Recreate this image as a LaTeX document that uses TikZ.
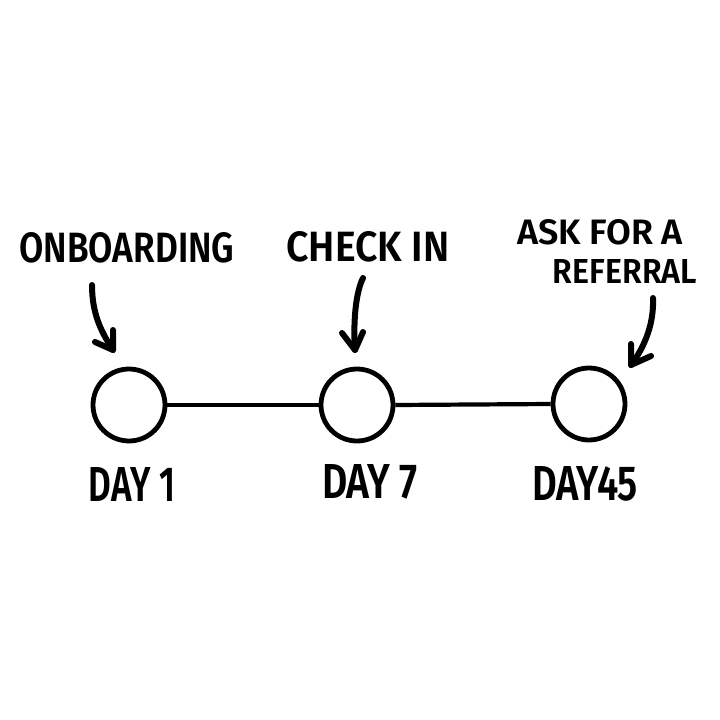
\documentclass[tikz,border=0pt]{standalone}
\usepackage{fontspec}
\setmainfont{Fira Sans}[BoldFont={Fira Sans SemiBold}]
\usepackage{graphicx}
\newcommand{\lbl}[3]{\resizebox{#1}{#2}{\bfseries #3}}
\tikzset{
  stage/.style={circle, draw=black, line width=4.8pt, minimum size=72pt, inner sep=0pt, fill=white},
  link/.style={line width=4.2pt},
  pointer/.style={line width=6pt, line cap=round, line join=round},
  txt/.style={inner sep=0pt, anchor=center}
}
\begin{document}
\begin{tikzpicture}[x=1pt,y=-1pt]
\fill[white] (0,0) rectangle (720,720);
\useasboundingbox (0,0) rectangle (720,720);
% stages
\node[stage] (c1) at (129,405) {};
\node[stage] (c2) at (357,405) {};
\node[stage] (c3) at (589,404) {};
\draw[link] (c1.east) -- (c2.west);
\draw[link] (c2.east) -- (c3.west);
% labels
\node[txt] (onb) at (127,248) {\lbl{215pt}{30pt}{ONBOARDING}};
\node[txt] (chk) at (368,247) {\lbl{163pt}{30pt}{CHECK IN}};
\node[txt] (ask) at (600,232) {\lbl{166pt}{25pt}{ASK FOR A}};
\node[txt] (ref) at (625,271) {\lbl{144pt}{24pt}{REFERRAL}};
\node[txt] (d1) at (132,484) {\lbl{86pt}{34pt}{DAY 1}};
\node[txt] (d7) at (370,482) {\lbl{96pt}{34pt}{DAY 7}};
\node[txt] (d45) at (585,484) {\lbl{106pt}{34pt}{DAY45}};
% arrows
\coordinate (a1s) at (92,285);
\coordinate (a1t) at (113,350);
\coordinate (a1l) at (95,342);
\coordinate (a1r) at (113,330);
\draw[pointer] (a1s) .. controls (92,315) and (102,333) .. (a1t);
\draw[pointer] (a1l) -- (a1t) -- (a1r);
\coordinate (a2s) at (363,278);
\coordinate (a2t) at (355,350);
\coordinate (a2l) at (342,333);
\coordinate (a2r) at (363,332);
\draw[pointer] (a2s) .. controls (356,292) and (353,320) .. (a2t);
\draw[pointer] (a2l) -- (a2t) -- (a2r);
\coordinate (a3s) at (653,298);
\coordinate (a3t) at (631,365);
\coordinate (a3u) at (631,344);
\coordinate (a3r) at (651,356);
\draw[pointer] (a3s) .. controls (654,322) and (646,345) .. (a3t);
\draw[pointer] (a3u) -- (a3t) -- (a3r);
\end{tikzpicture}
\end{document}
